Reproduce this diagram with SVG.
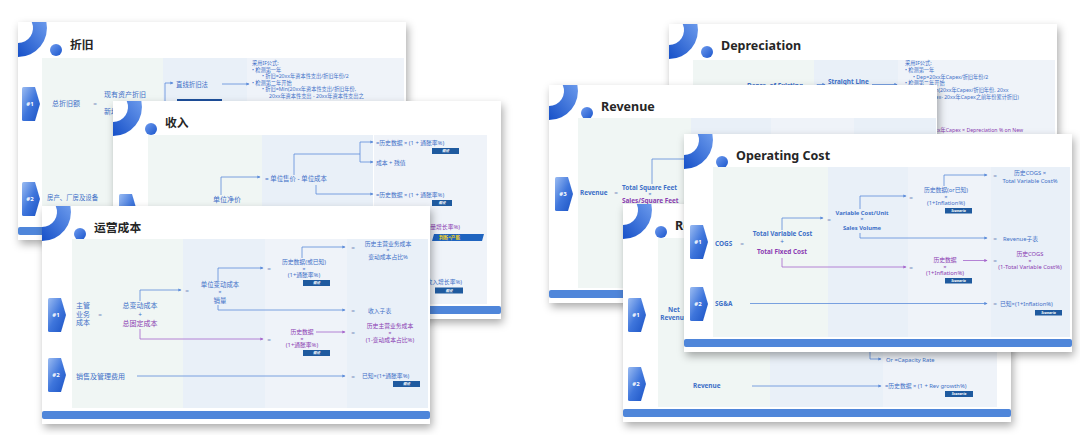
<svg xmlns="http://www.w3.org/2000/svg" width="1080" height="435" viewBox="0 0 1080 435">
<defs>
<style>
text{font-family:"Noto Sans","Noto Sans CJK SC",sans-serif}
.ttl{font-size:12.5px;font-weight:700;fill:#262626}
.ttc{font-size:11.8px;font-weight:700;fill:#262626}
.b{fill:#3d6fc7}
.p{fill:#8b3cb2}
.q{fill:#7790c0}
.m{text-anchor:middle}
.e{text-anchor:end}
.bd{font-weight:700}
.s4{font-size:5.2px}
.s5{font-size:5.8px}
.s6{font-size:6.4px}
.s7{font-size:7px}
.hx{font-size:6px;font-weight:700;fill:#fff;text-anchor:middle}
.bt{font-size:3.6px;font-weight:700;fill:#fff;text-anchor:middle;font-style:italic}
.lb{stroke:#5b8bd9;stroke-width:0.8;fill:none}
.lp{stroke:#a565cc;stroke-width:0.8;fill:none}
.ab{marker-end:url(#mb)}
.ap{marker-end:url(#mp)}
.c1{fill:#f0f6f4}
.c2{fill:#e9f0f8}
.c3{fill:#eff3f9}
.bdg{fill:#1f5a9f}
</style>
<filter id="sh" x="-10%" y="-10%" width="125%" height="130%">
<feDropShadow dx="2" dy="4" stdDeviation="4.5" flood-color="#000" flood-opacity="0.33"/>
</filter>
<linearGradient id="gr" x1="0" y1="1" x2="1" y2="0"><stop offset="0" stop-color="#1650c8"/><stop offset="1" stop-color="#6b9aec"/></linearGradient>
<linearGradient id="gc" x1="0" y1="0" x2="1" y2="1"><stop offset="0" stop-color="#6e9bee"/><stop offset="1" stop-color="#1a55cc"/></linearGradient>
<linearGradient id="gh" x1="0" y1="0" x2="1" y2="1"><stop offset="0" stop-color="#9bbcf2"/><stop offset="0.5" stop-color="#3f76dc"/><stop offset="1" stop-color="#1a52c4"/></linearGradient>
<marker id="mb" viewBox="0 0 6 6" refX="5" refY="3" markerWidth="3.2" markerHeight="3.2" markerUnits="userSpaceOnUse" orient="auto"><path d="M0,0L6,3L0,6z" fill="#5b8bd9"/></marker>
<marker id="mp" viewBox="0 0 6 6" refX="5" refY="3" markerWidth="3.2" markerHeight="3.2" markerUnits="userSpaceOnUse" orient="auto"><path d="M0,0L6,3L0,6z" fill="#a565cc"/></marker>
<g id="card">
<rect width="388" height="218" fill="#fff" filter="url(#sh)"/>
<path d="M13.75,0L28.37,0A29,29 0 0 1 0,35L0,21A15,15 0 0 0 13.75,0Z" fill="url(#gr)"/>
<circle cx="38" cy="28" r="6" fill="url(#gc)"/>
<rect x="0" y="205" width="388" height="8" rx="2" fill="#4f86da"/>
</g>
<path id="chev" d="M0,1.5Q0,0 1.5,0L13,0L18,17L13,34L1.5,34Q0,34 0,32.5Z" fill="url(#gh)"/>
</defs>
<rect width="1080" height="435" fill="#fff"/>

<!-- LEFT STACK -->
<g id="slide-zhejiu" transform="translate(18,22)">
<use href="#card"/>
<text class="ttc" x="52" y="27">折旧</text>
<rect class="c1" x="24" y="36" width="121" height="167"/>
<rect class="c2" x="145" y="36" width="84" height="167"/>
<rect class="c3" x="229" y="36" width="157" height="167"/>
<use href="#chev" x="4" y="65"/><text class="hx" x="12" y="84">#1</text>
<use href="#chev" x="4" y="160"/><text class="hx" x="12" y="179">#2</text>
<g id="zhejiu-connectors">
<path class="lb ab" d="M147,80V61H155"/>
<path class="lb ab" d="M204,62H231"/>
</g>
<text class="b s7 m" x="48" y="84">总折旧额</text>
<text class="q s6 m" x="77" y="84">=</text>
<text class="b s7 m" x="107" y="75">现有资产折旧</text>
<text class="b s7 m" x="107" y="92">新增资产折旧</text>
<text class="b s6" x="158" y="64.5">直线折旧法</text>
<rect x="159" y="77" width="45" height="8" fill="#1d4f9c"/>
<g class="b s4">
<text x="234" y="43">采用IF公式:</text>
<text x="234" y="49.5">•   检测第一年</text>
<text x="244" y="56">•   折旧=20xx年资本性支出/折旧年份/2</text>
<text x="234" y="62.5">•   检测第二年开始</text>
<text x="244" y="69">•   折旧=Min(20xx年资本性支出/折旧年份,</text>
<text x="251" y="75.5">20xx年资本性支出 - 20xx年资本性支出之</text>
</g>
<text class="b s6" x="29" y="178">房产、厂房及设备</text>
</g>

<g id="slide-shouru" transform="translate(113,101)">
<use href="#card"/>
<text class="ttc" x="52" y="26">收入</text>
<rect class="c1" x="35" y="34" width="114" height="169"/>
<rect class="c2" x="149" y="34" width="111" height="169"/>
<rect class="c3" x="261" y="34" width="113" height="169"/>
<use href="#chev" x="6" y="93"/><text class="hx" x="14" y="112">#1</text>
<g id="shouru-connectors">
<path class="lb ab" d="M108,94V76H147"/>
<path class="lb" d="M181,74V53H247M247,41V61"/>
<path class="lb ab" d="M247,41H260"/>
<path class="lb ab" d="M247,61H260"/>
<path class="lb ab" d="M203,84V93H260"/>
</g>
<text class="b s7 m" x="114" y="101">单位净价</text>
<text class="b s6" x="152" y="80">= 单位售价 - 单位成本</text>
<text class="b s5" x="263" y="44">=历史数据 × (1 + 通胀率%)</text>
<rect class="bdg" x="319" y="47" width="27" height="6"/><text class="bt" x="332.5" y="51.3">假设</text>
<text class="b s5" x="263" y="63.5">成本 + 残值</text>
<text class="b s5" x="263" y="96">=历史数据 × (1 + 通胀率%)</text>
<rect class="bdg" x="319" y="99" width="20" height="6"/><text class="bt" x="329" y="103.3">假设</text>
<text class="p s5 e" x="347" y="127.5">=历史数据 × (1 + 销量增长率%)</text>
<path d="M321,133H371L369,140H319Z" fill="#1f64c0"/>
<text x="326" y="138.4" font-size="4.6" font-weight="700" fill="#f2d21c">判断&lt;产能</text>
<text class="b s5 e" x="349" y="182.5">=历史数据 × (1 + 收入增长率%)</text>
<rect class="bdg" x="322" y="186.5" width="28" height="6"/><text class="bt" x="336" y="190.8">假设</text>
</g>

<g id="slide-yunying" transform="translate(42,206)">
<use href="#card"/>
<text class="ttc" x="52" y="26">运营成本</text>
<rect class="c1" x="30" y="33" width="111" height="169"/>
<rect class="c2" x="141" y="33" width="82" height="169"/>
<rect class="c3" x="223" y="33" width="82" height="169"/>
<rect class="c2" x="305" y="33" width="81" height="169"/>
<use href="#chev" x="6" y="92"/><text class="hx" x="14" y="111">#1</text>
<use href="#chev" x="6" y="152"/><text class="hx" x="14" y="171">#2</text>
<g id="yunying-connectors">
<path class="lb ab" d="M98,95V84H139"/>
<path class="lp ap" d="M98,123V133H221"/>
<path class="lb ab" d="M176,75V62H221"/>
<path class="lb ab" d="M176,99V104H303"/>
<path class="lb ab" d="M260,52V41H303"/>
<path class="lp ap" d="M274,126H303"/>
<path class="lb ab" d="M95,170H303"/>
</g>
<text class="b s7" x="34" y="102">主管</text>
<text class="b s7" x="34" y="110.5">业务</text>
<text class="b s7" x="34" y="119">成本</text>
<text class="q s6 m" x="58" y="111">=</text>
<text class="b s7 m" x="98" y="102">总变动成本</text>
<text class="b s6 m" x="98" y="111">+</text>
<text class="p s7 m" x="98" y="120">总固定成本</text>
<text class="q s6 m" x="145" y="87">=</text>
<text class="q s6 m" x="227" y="65">=</text>
<text class="q s6 m" x="227" y="136">=</text>
<text class="b s6 m" x="178" y="81">单位变动成本</text>
<text class="b s5 m" x="178" y="88">×</text>
<text class="b s6 m" x="178" y="96.5">销量</text>
<text class="b s5 m" x="262" y="58">历史数据(或已知)</text>
<text class="b s5 m" x="262" y="64.5">×</text>
<text class="b s5 m" x="262" y="71">(1+通胀率%)</text>
<rect class="bdg" x="261" y="74" width="27" height="6"/><text class="bt" x="274.5" y="78.3">假设</text>
<text class="q s6 m" x="311" y="44">=</text>
<text class="b s5 m" x="346" y="39.5">历史主营业务成本</text>
<text class="b s5 m" x="346" y="46">×</text>
<text class="b s5 m" x="346" y="53">变动成本占比%</text>
<text class="q s6 m" x="311" y="107">=</text>
<text class="b s5" x="326" y="106.5">收入子表</text>
<text class="p s5 m" x="260" y="128">历史数据</text>
<text class="p s5 m" x="260" y="134.5">×</text>
<text class="p s5 m" x="260" y="141">(1+通胀率%)</text>
<rect class="bdg" x="261" y="144" width="27" height="6"/><text class="bt" x="274.5" y="148.3">假设</text>
<text class="q s6 m" x="311" y="128.5">=</text>
<text class="p s5 m" x="348" y="122">历史主营业务成本</text>
<text class="p s5 m" x="348" y="128.5">×</text>
<text class="p s5 m" x="348" y="135.5">(1-变动成本占比%)</text>
<text class="b s7" x="34" y="172.5">销售及管理费用</text>
<text class="q s6 m" x="311" y="172.5">=</text>
<text class="b s5" x="320" y="172">已知×(1+通胀率%)</text>
<rect class="bdg" x="351" y="175" width="27" height="6"/><text class="bt" x="364.5" y="179.3">假设</text>
</g>

<!-- RIGHT STACK -->
<g id="slide-depreciation" transform="translate(669,24)">
<use href="#card"/>
<text class="ttl" x="52" y="26">Depreciation</text>
<rect class="c1" x="24" y="36" width="121" height="167"/>
<rect class="c2" x="145" y="36" width="84" height="167"/>
<rect class="c3" x="229" y="36" width="157" height="167"/>
<g id="depreciation-connectors">
<path class="lb ab" d="M148,66V60.5H156"/>
<path class="lb ab" d="M203,60.5H228"/>
</g>
<text class="b s6 bd m" x="106" y="64.3">Depre. of Existing</text>
<text class="b s6 bd" x="159" y="59.5">Straight Line</text>
<g class="b s4">
<text x="236" y="41">采用IF公式:</text>
<text x="236" y="47.5">•   检测第一年</text>
<text x="244" y="54.5">•   Dep=20xx年Capex/折旧年份/2</text>
<text x="236" y="60.5">•   检测第二年开始</text>
<text x="244" y="68">•   Dep=Min(20xx年Capex/折旧年份, 20xx</text>
<text x="252" y="74.5">年Capex- 20xx年Capex之前年份累计折旧)</text>
</g>
<g class="p s4">
<text x="244" y="101">•   新增资产</text>
<text x="244" y="108">•   Dep=20xx年Capex × Depreciation % on New</text>
</g>
</g>

<g id="slide-revenue" transform="translate(549,85)">
<use href="#card"/>
<text class="ttl" x="52" y="26">Revenue</text>
<rect class="c1" x="29" y="33" width="113" height="170"/>
<rect class="c2" x="142" y="33" width="80" height="170"/>
<rect class="c3" x="222" y="33" width="83" height="170"/>
<rect class="c2" x="305" y="33" width="82" height="170"/>
<use href="#chev" x="6" y="92"/><text class="hx" x="14" y="111">#3</text>
<g id="revenue-connectors">
<path class="lb ab" d="M103,99V74H160"/>
</g>
<text class="b s6 bd" x="31" y="109.5">Revenue</text>
<text class="q s6 m" x="67" y="109.5">=</text>
<text class="b s6 bd" x="73" y="104.5">Total Square Feet</text>
<text class="b s5 m" x="101" y="111">×</text>
<text class="p s6 bd" x="73" y="118">Sales/Square Feet</text>
</g>

<g id="slide-revenue-2" transform="translate(623,204)">
<use href="#card"/>
<text class="ttl" x="52" y="26">Revenue</text>
<rect class="c1" x="35" y="34" width="112" height="169"/>
<rect class="c2" x="147" y="34" width="113" height="169"/>
<rect class="c3" x="260" y="34" width="114" height="169"/>
<use href="#chev" x="5" y="94"/><text class="hx" x="13" y="113">#1</text>
<use href="#chev" x="5" y="163"/><text class="hx" x="13" y="182">#2</text>
<g id="revenue2-connectors">
<path class="lb ab" d="M247,140V155H258"/>
<path class="lb ab" d="M129,182H258"/>
</g>
<text class="b s6 bd m" x="51" y="108">Net</text>
<text class="b s6 bd m" x="51" y="116">Revenue</text>
<text class="b s5" x="263" y="157.5">Or =Capacity Rate</text>
<text class="b s6 bd" x="70" y="183.5">Revenue</text>
<text class="b s5" x="262" y="184">=历史数据 × (1 + Rev growth%)</text>
<rect class="bdg" x="322" y="187" width="28" height="6"/><text class="bt" x="336" y="191.3">Scenario</text>
</g>

<g id="slide-operating-cost" transform="translate(684,134)">
<use href="#card"/>
<text class="ttl" x="52" y="26">Operating Cost</text>
<rect class="c1" x="29" y="33" width="115" height="170"/>
<rect class="c2" x="144" y="33" width="80" height="170"/>
<rect class="c3" x="224" y="33" width="83" height="170"/>
<rect class="c2" x="307" y="33" width="79" height="170"/>
<use href="#chev" x="6" y="91"/><text class="hx" x="14" y="110">#1</text>
<use href="#chev" x="6" y="153"/><text class="hx" x="14" y="172">#2</text>
<g id="opcost-connectors">
<path class="lb ab" d="M98,96V84H139"/>
<path class="lp ap" d="M98,124V133H222"/>
<path class="lb ab" d="M176,75V62H222"/>
<path class="lb ab" d="M176,99V104H303"/>
<path class="lb ab" d="M260,52V41H303"/>
<path class="lp ap" d="M279,126.5H303"/>
<path class="lb ab" d="M66,169.5H303"/>
</g>
<text class="b s6 bd" x="31" y="111.5">COGS</text>
<text class="q s6 m" x="58" y="111.5">=</text>
<text class="b s6 bd m" x="98.5" y="102">Total Variable Cost</text>
<text class="b s6 m" x="98" y="110">+</text>
<text class="p s6 bd m" x="98" y="120">Total Fixed Cost</text>
<text class="q s6 m" x="145" y="87.5">=</text>
<text class="b s5 bd m" x="178" y="80.5">Variable Cost/Unit</text>
<text class="b s5 m" x="178" y="87">×</text>
<text class="b s5 bd m" x="178" y="96">Sales Volume</text>
<text class="q s6 m" x="227" y="65.5">=</text>
<text class="b s5 m" x="262" y="58">历史数据(or已知)</text>
<text class="b s5 m" x="262" y="64.5">×</text>
<text class="b s5 m" x="262" y="71">(1+Inflation%)</text>
<rect class="bdg" x="261" y="74" width="27" height="5.5"/><text class="bt" x="274.5" y="78">Scenario</text>
<text class="q s6 m" x="311" y="44">=</text>
<text class="b s5 m" x="346" y="41">历史COGS ×</text>
<text class="b s5 m" x="346" y="48.5">Total Variable Cost%</text>
<text class="q s6 m" x="311" y="107">=</text>
<text class="b s5" x="319" y="107">Revenue子表</text>
<text class="q s6 m" x="227" y="135.5">=</text>
<text class="p s5 m" x="261" y="128">历史数据</text>
<text class="p s5 m" x="261" y="134.5">×</text>
<text class="p s5 m" x="261" y="141">(1+Inflation%)</text>
<rect class="bdg" x="261" y="144" width="27" height="5.5"/><text class="bt" x="274.5" y="148">Scenario</text>
<text class="q s6 m" x="311" y="129">=</text>
<text class="p s5 m" x="346" y="122">历史COGS</text>
<text class="p s5 m" x="346" y="128.5">×</text>
<text class="p s5 m" x="346" y="135">(1-Total Variable Cost%)</text>
<text class="b s6 bd" x="31" y="171.5">SG&amp;A</text>
<text class="q s6 m" x="311" y="172">=</text>
<text class="b s5" x="316" y="172">已知×(1+Inflation%)</text>
<rect class="bdg" x="351" y="176" width="27" height="5.5"/><text class="bt" x="364.5" y="180">Scenario</text>
</g>
</svg>
